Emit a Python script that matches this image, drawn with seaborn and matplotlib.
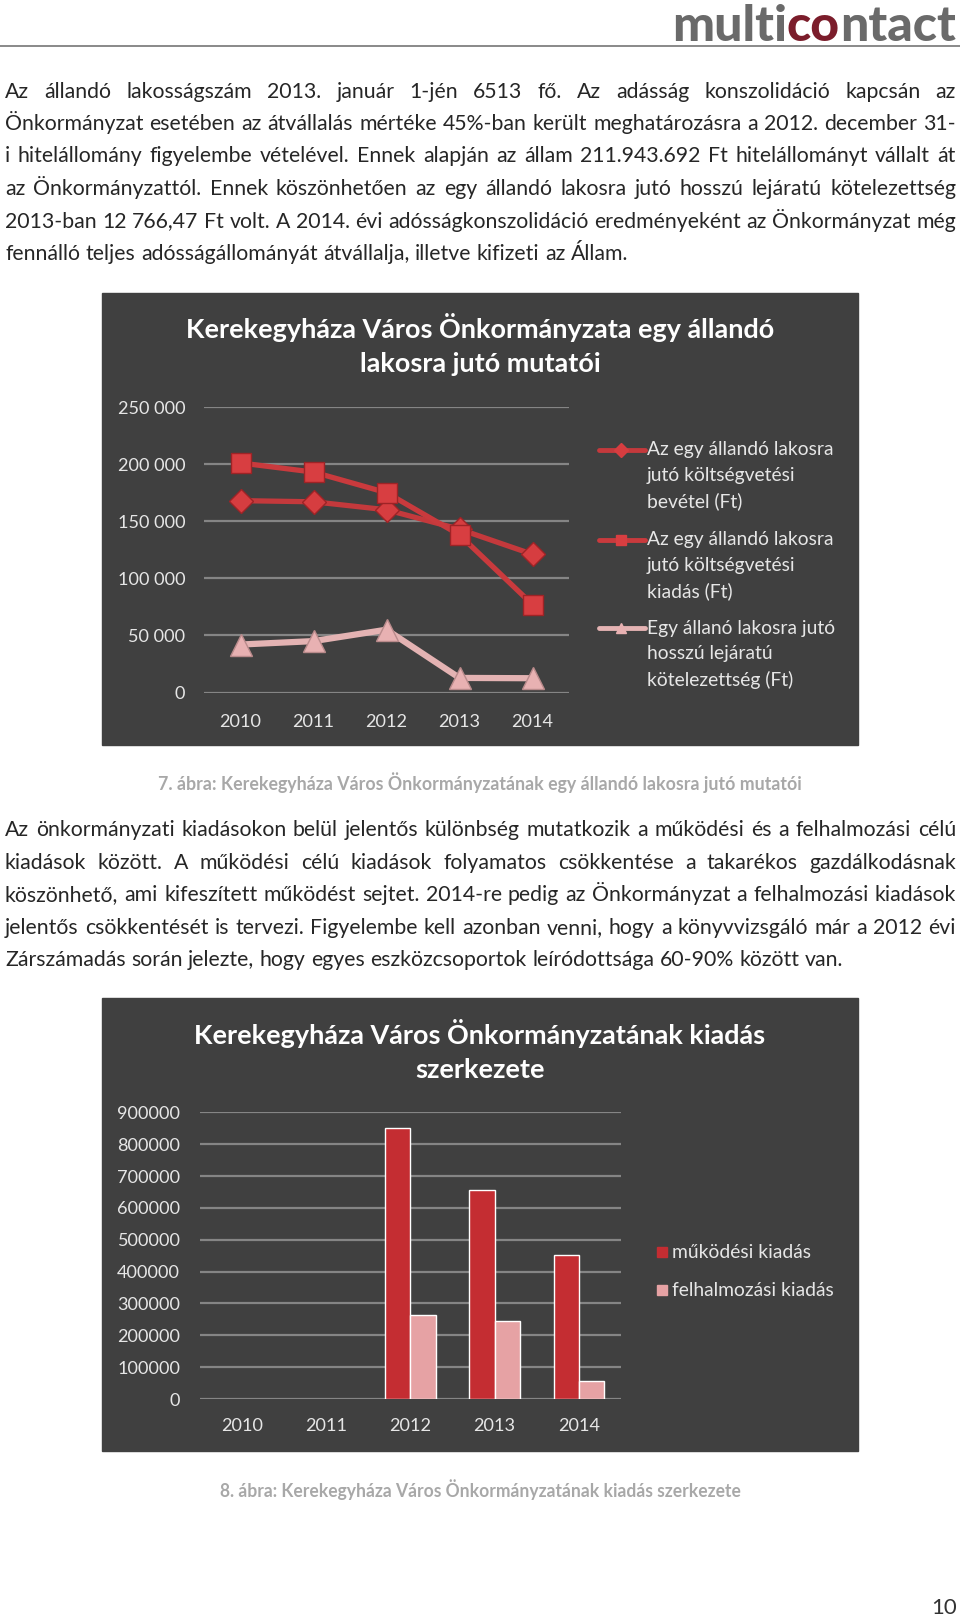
import numpy as np
import pandas as pd
import matplotlib
matplotlib.use("Agg")
import matplotlib.pyplot as plt
import seaborn as sns
from matplotlib.patches import Rectangle
from matplotlib.lines import Line2D

# --- data ---
years = [2010, 2011, 2012, 2013, 2014]
bevetel = [168000, 167000, 160000, 143000, 121000]
kiadas = [201000, 193000, 175000, 138000, 77000]
hosszu = [42000, 45000, 55000, 12766, 12500]
line_series = ["Az egy állandó lakosra jutó költségvetési bevétel (Ft)",
               "Az egy állandó lakosra jutó költségvetési kiadás (Ft)",
               "Egy állanó lakosra jutó hosszú lejáratú kötelezettség (Ft)"]
line_legend = [["Az egy állandó lakosra", "jutó költségvetési", "bevétel (Ft)"],
               ["Az egy állandó lakosra", "jutó költségvetési", "kiadás (Ft)"],
               ["Egy állanó lakosra jutó", "hosszú lejáratú", "kötelezettség (Ft)"]]

mukodesi = [np.nan, np.nan, 850000, 655000, 452000]
felhalmozasi = [np.nan, np.nan, 264000, 246000, 57000]
bar_series = ["működési kiadás", "felhalmozási kiadás"]

title1 = ["Kerekegyháza Város Önkormányzata egy állandó", "lakosra jutó mutatói"]
title2 = ["Kerekegyháza Város Önkormányzatának kiadás", "szerkezete"]
caption1 = "7. ábra: Kerekegyháza Város Önkormányzatának egy állandó lakosra jutó mutatói"
caption2 = "8. ábra: Kerekegyháza Város Önkormányzatának kiadás szerkezete"

para1 = ["Az állandó lakosságszám 2013. január 1-jén 6513 fő. Az adásság konszolidáció kapcsán az",
         "Önkormányzat esetében az átvállalás mértéke 45%-ban került meghatározásra a 2012. december 31-",
         "i hitelállomány figyelembe vételével. Ennek alapján az állam 211.943.692 Ft hitelállományt vállalt át",
         "az Önkormányzattól. Ennek köszönhetően az egy állandó lakosra jutó hosszú lejáratú kötelezettség",
         "2013-ban 12 766,47 Ft volt. A 2014. évi adósságkonszolidáció eredményeként az Önkormányzat még",
         "fennálló teljes adósságállományát átvállalja, illetve kifizeti az Állam."]
para2 = ["Az önkormányzati kiadásokon belül jelentős különbség mutatkozik a működési és a felhalmozási célú",
         "kiadások között. A működési célú kiadások folyamatos csökkentése a takarékos gazdálkodásnak",
         "köszönhető, ami kifeszített működést sejtet. 2014-re pedig az Önkormányzat a felhalmozási kiadások",
         "jelentős csökkentését is tervezi. Figyelembe kell azonban venni, hogy a könyvvizsgáló már a 2012 évi",
         "Zárszámadás során jelezte, hogy egyes eszközcsoportok leíródottsága 60-90% között van."]

sns.set_style("white")
plt.rcParams["font.family"] = ["Lato", "DejaVu Sans"]

W, H = 960, 1622
fig = plt.figure(figsize=(W / 100, H / 100), dpi=100)
renderer = fig.canvas.get_renderer()


def fx(x):
    return x / W


def fy(y):
    return 1 - y / H


def text_w(s, size, weight="normal"):
    t = fig.text(0, 0, s, fontsize=size, fontweight=weight)
    w = t.get_window_extent(renderer).width
    t.remove()
    return w


def fit(s, width, weight="normal"):
    return 20 * width / text_w(s, 20, weight)


BODY = "#262626"
X0, X1 = 5, 956
body_size = fit(para2[-1], 835)
space = text_w("a a", body_size) - text_w("aa", body_size)


def put_line(s, base_y, last=False):
    words = s.split(" ")
    size = body_size
    ws = [text_w(w, size) for w in words]
    if not last and sum(ws) + space * (len(words) - 1) > X1 - X0:
        size = size * (X1 - X0) / (sum(ws) + space * (len(words) - 1))
        ws = [text_w(w, size) for w in words]
    gap = space if last else (X1 - X0 - sum(ws)) / (len(words) - 1)
    x = X0
    for w, wd in zip(words, ws):
        fig.text(fx(x), fy(base_y), w, fontsize=size, color=BODY, va="baseline", ha="left")
        x += wd + gap


for i, s in enumerate(para1):
    put_line(s, 97.5 + i * 32.5, last=(i == len(para1) - 1))
for i, s in enumerate(para2):
    put_line(s, 836 + i * 32.6, last=(i == len(para2) - 1))

# header logo and rule
logo_size = fit("multicontact", 285, "black")
x = 672
for seg, col in [("multi", "#6a6a6a"), ("co", "#7b1d2b"), ("ntact", "#6a6a6a")]:
    fig.text(fx(x), fy(41), seg, fontsize=logo_size, fontweight="black", color=col, va="baseline")
    x += text_w(seg, logo_size, "black")
fig.add_artist(Line2D([0, 1], [fy(46), fy(46)], transform=fig.transFigure, color="#808080", lw=1.3))

# captions and page number
fig.text(0.5, fy(783), caption1, fontsize=fit(caption1, 638, "bold"), fontweight="bold",
         color="#a8a8a8", ha="center", va="center")
fig.text(0.5, fy(1490), caption2, fontsize=fit(caption2, 521, "bold"), fontweight="bold",
         color="#a8a8a8", ha="center", va="center")
fig.text(fx(957), fy(1614), "10", fontsize=body_size * 1.05, color="#333333", ha="right", va="baseline")

BG = "#404040"
GRID = "#858585"
LBL = "#e6e6e6"
for top, bottom in [(293, 745), (998, 1451)]:
    fig.add_artist(Rectangle((fx(102), fy(bottom)), (858 - 102) / W, (bottom - top) / H,
                             transform=fig.transFigure, color=BG, zorder=-1))

# --- chart 1: lines ---
tsize1 = fit(title1[0], 587, "bold")
fig.text(fx(480), fy(328), title1[0], fontsize=tsize1, fontweight="bold", color="white", ha="center", va="center")
fig.text(fx(480), fy(364), title1[1], fontsize=tsize1, fontweight="bold", color="white", ha="center", va="center")

ax1 = fig.add_axes([fx(204), fy(692.5), (569 - 204) / W, (692.5 - 407) / H])
ax1.patch.set_visible(False)
df1 = pd.DataFrame({"year": years * 3,
                    "value": bevetel + kiadas + hosszu,
                    "series": [line_series[0]] * 5 + [line_series[1]] * 5 + [line_series[2]] * 5})
line_cols = ["#c4393c", "#c93a3d", "#e4b3b3"]
sns.lineplot(data=df1, x="year", y="value", hue="series", style="series",
             palette=dict(zip(line_series, line_cols)),
             markers=dict(zip(line_series, ["D", "s", "^"])), dashes=False,
             linewidth=3.8, legend=False, ax=ax1)
mk_face = ["#d63d40", "#d83e41", "#e8b1b2"]
mk_edge = ["#9e2326", "#9e2326", "#b98a8b"]
mk_size = [12, 15, 16]
for ln, fc, ec, ms in zip(ax1.lines, mk_face, mk_edge, mk_size):
    ln.set_markerfacecolor(fc)
    ln.set_markeredgecolor(ec)
    ln.set_markersize(ms)
    ln.set_markeredgewidth(1)
ax1.lines[2].set_linewidth(4.5)
ax1.set_xlim(2009.5, 2014.5)
ax1.set_ylim(0, 250000)
ax1.set_xticks(years)
ax1.set_yticks(range(0, 250001, 50000))
ax1.set_yticklabels([f"{v:,}".replace(",", " ") for v in range(0, 250001, 50000)])
ax1.grid(axis="y", color=GRID, lw=1.6)
ax1.grid(axis="x", visible=False)
ax1.set_axisbelow(True)
sns.despine(ax=ax1, left=True, bottom=True)
ax1.set_xlabel("")
ax1.set_ylabel("")
tick1 = fit("250 000", 68)
ax1.tick_params(axis="both", length=0, colors=LBL, labelsize=tick1)
ax1.tick_params(axis="y", pad=13.5)
ax1.tick_params(axis="x", pad=15.5)

leg_size = fit("Az egy állandó lakosra", 187)
leg_y = [450, 540, 628.5]
for lines, y0, col, mk, fc in zip(line_legend, leg_y, line_cols, ["D", "s", "^"], mk_face):
    fig.add_artist(Line2D([fx(599), fx(645)], [fy(y0), fy(y0)], transform=fig.transFigure, color=col, lw=3.5))
    fig.add_artist(Line2D([fx(621)], [fy(y0)], transform=fig.transFigure, marker=mk,
                          markersize=7, markerfacecolor=fc, markeredgecolor=fc, lw=0))
    for k, s in enumerate(lines):
        fig.text(fx(647), fy(y0 + k * 25.5), s, fontsize=leg_size, color=LBL, va="center", ha="left")

# --- chart 2: bars ---
tsize2 = fit(title2[0], 570, "bold")
fig.text(fx(480), fy(1033), title2[0], fontsize=tsize2, fontweight="bold", color="white", ha="center", va="center")
fig.text(fx(480), fy(1070), title2[1], fontsize=tsize2, fontweight="bold", color="white", ha="center", va="center")

ax2 = fig.add_axes([fx(199.5), fy(1399), (621 - 199.5) / W, (1399 - 1112.3) / H])
ax2.patch.set_visible(False)
df2 = pd.DataFrame({"year": [str(y) for y in years] * 2,
                    "value": mukodesi + felhalmozasi,
                    "type": [bar_series[0]] * 5 + [bar_series[1]] * 5})
bar_cols = ["#c42d32", "#e6a2a4"]
sns.barplot(data=df2, x="year", y="value", hue="type", order=[str(y) for y in years],
            hue_order=bar_series, palette=dict(zip(bar_series, bar_cols)), saturation=1,
            width=0.6, gap=0, legend=False, ax=ax2, zorder=3)
ax2.set_xlim(-0.5, 4.5)
ax2.set_ylim(0, 900000)
ax2.set_yticks(range(0, 900001, 100000))
ax2.set_yticklabels([str(v) for v in range(0, 900001, 100000)])
ax2.grid(axis="y", color=GRID, lw=1.6)
ax2.grid(axis="x", visible=False)
ax2.set_axisbelow(True)
sns.despine(ax=ax2, left=True, bottom=True)
ax2.set_xlabel("")
ax2.set_ylabel("")
tick2 = fit("900000", 63)
ax2.tick_params(axis="both", length=0, colors=LBL, labelsize=tick2)
ax2.tick_params(axis="y", pad=14)
ax2.tick_params(axis="x", pad=14)

leg2_size = fit("felhalmozási kiadás", 162)
for s, col, y0 in zip(bar_series, bar_cols, [1252, 1290]):
    fig.add_artist(Rectangle((fx(657), fy(y0 + 5)), 10 / W, 10 / H, transform=fig.transFigure, color=col))
    fig.text(fx(672), fy(y0), s, fontsize=leg2_size, color=LBL, va="center", ha="left")

fig.savefig("out.png", dpi=100)
